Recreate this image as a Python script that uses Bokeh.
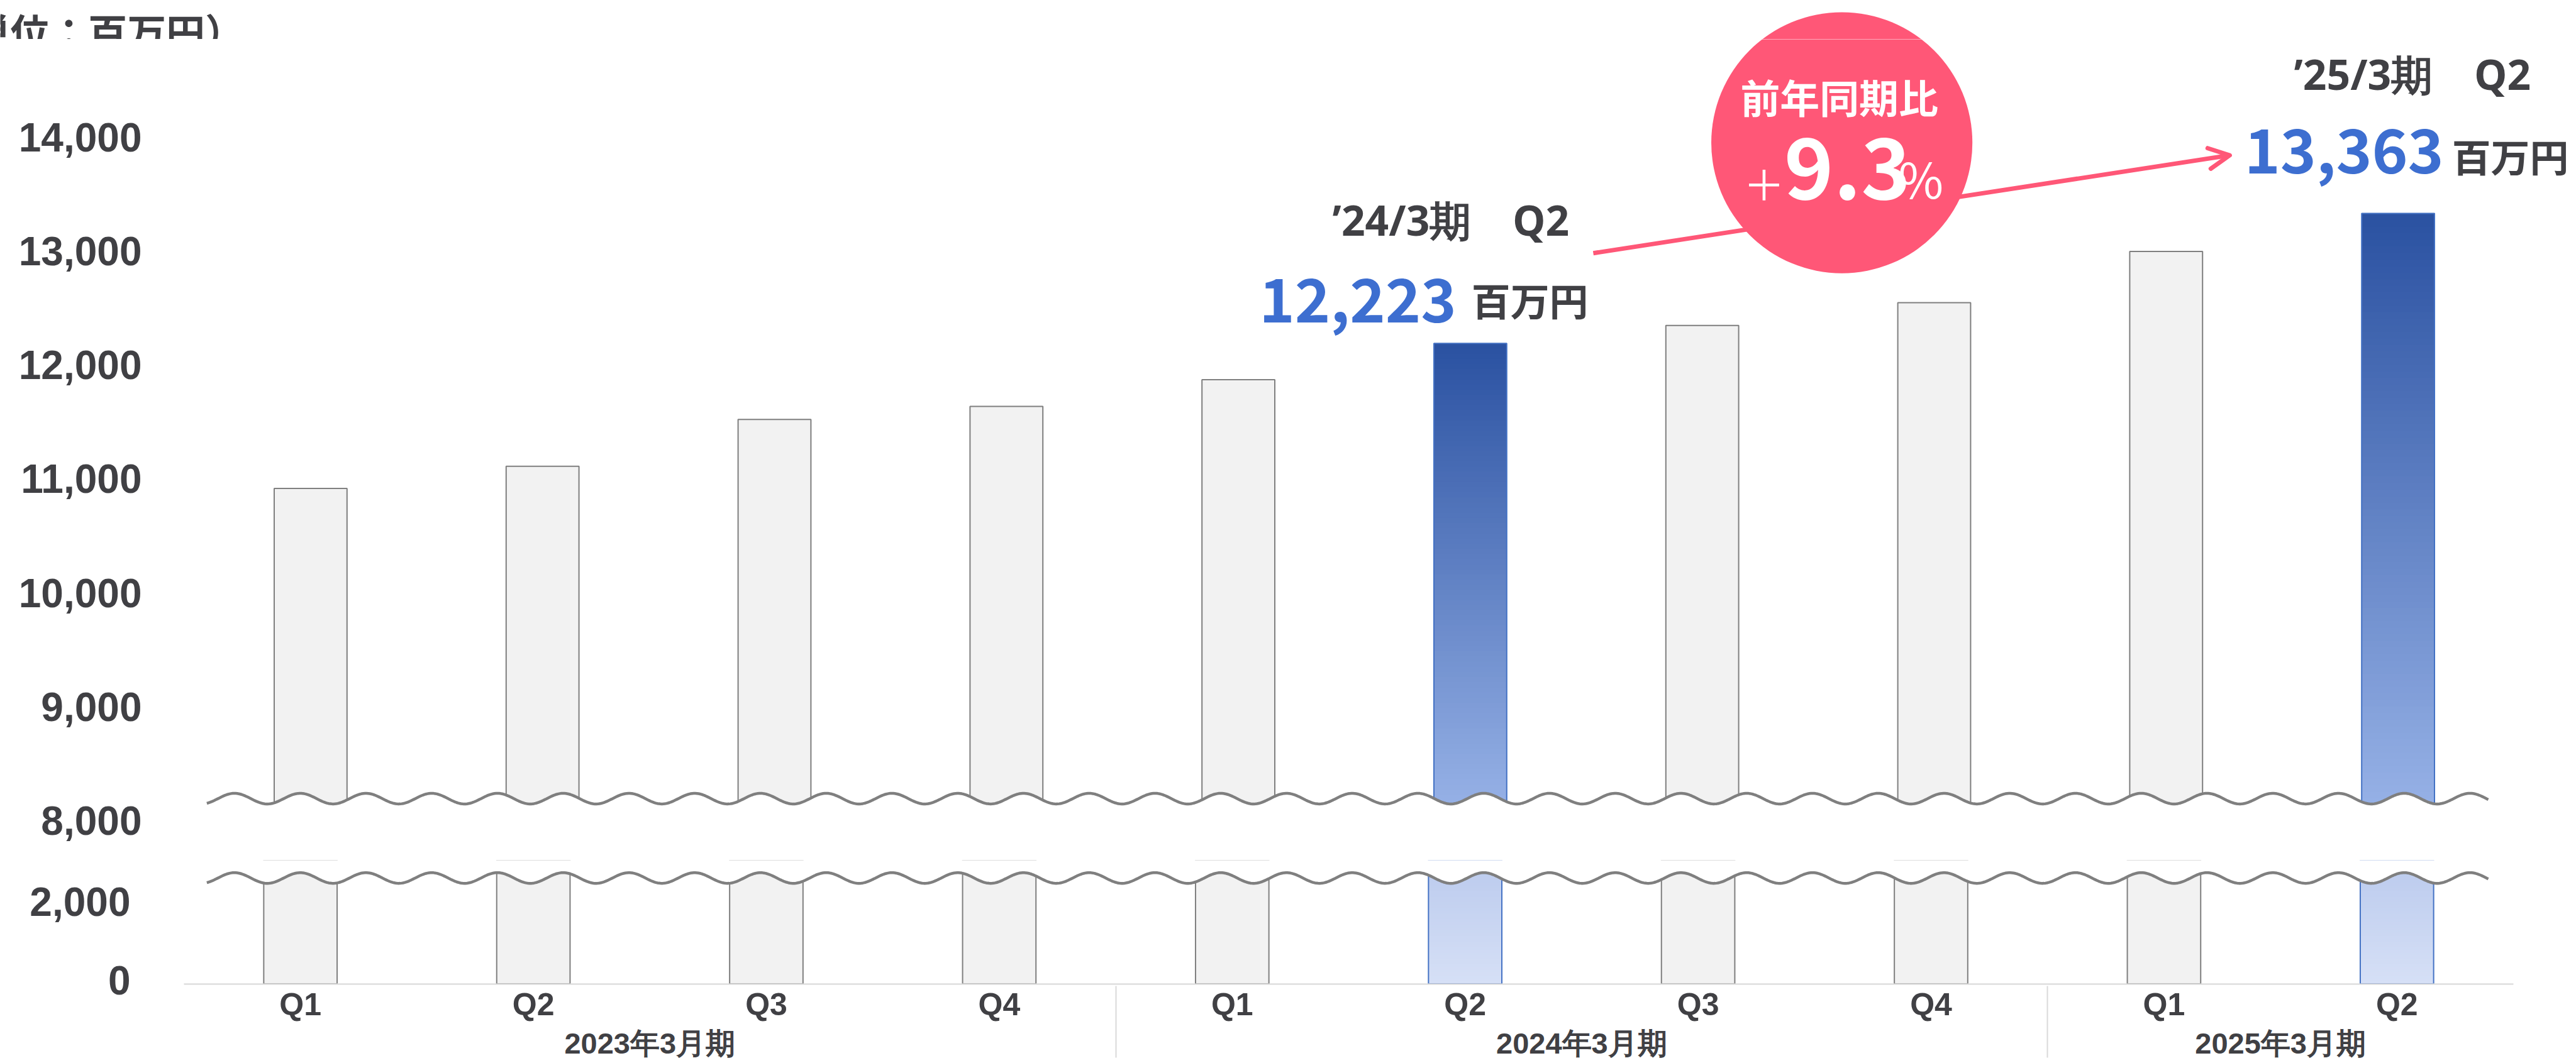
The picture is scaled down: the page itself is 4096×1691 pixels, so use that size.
import numpy as np
from bokeh.plotting import figure
from bokeh.models import (FactorRange, Range1d, FixedTicker, NumeralTickFormatter, Label,
                          Arrow, OpenHead, BoxAnnotation, LinearAxis)
from bokeh.core.properties import value
from bokeh.layouts import column
from bokeh.embed import file_html
from bokeh.resources import INLINE

# ---------------- data ----------------
fiscal_years = ["2023年3月期"] * 4 + ["2024年3月期"] * 4 + ["2025年3月期"] * 2
quarters = ["Q1", "Q2", "Q3", "Q4", "Q1", "Q2", "Q3", "Q4", "Q1", "Q2"]
revenue = [10950, 11145, 11555, 11670, 11905, 12223, 12380, 12580, 13030, 13363]
highlighted = [False, False, False, False, False, True, False, False, False, True]
upper_ticks = [8000, 9000, 10000, 11000, 12000, 13000, 14000]
lower_ticks = [0, 2000]
unit_title = "（単位：百万円）"
prev_label = "’24/3期　Q2"
curr_label = "’25/3期　Q2"
unit_text = "百万円"
yoy_title = "前年同期比"

# ---------------- layout constants ----------------
S = 0.998
W = 4096
H_T, H_UP, H_LO = 62, 1306, 323
UP_L = 309
LO_L, LO_R, LO_B = 292, 100, 126
LABEL_LIFT = 6  # tick labels sit slightly above their tick position (ref px)

DARK = "#404044"
BLUE = "#3d6ed0"
PINK = "#ff5777"
GREY_FILL = "#f2f2f2"
GREY_LINE = "#7f7f7f"
CJK = "Noto Sans CJK JP"
LATIN = "Noto Sans"
SANS = "Liberation Sans"


def cx(r):
    return S * r


def cy(r):
    return S * r


def ref(c):
    return c / S


# upper segment: value <-> reference px
K_UP, Y14 = 0.18167, 224.0


def up_val(ry):
    return 14000 - (ry - Y14) / K_UP


U_UP = 369.54
up_left_ref = ref(UP_L)


def up_sx(rx):
    return (rx - up_left_ref) / U_UP


# lower segment
K_LO, Y0 = 0.0625, 1568.0
lo_top_ref = ref(H_T + H_UP)
lo_bot_ref = ref(H_T + H_UP + H_LO - LO_B)
lo_left_ref = ref(LO_L)
U_LO = (W - LO_L - LO_R) / S / 10


def lo_val(ry):
    return (Y0 - ry) / K_LO


def lo_sx(rx):
    return (rx - lo_left_ref) / U_LO


factors = list(zip(fiscal_years, quarters))
xpos = [i + 0.5 for i in range(len(factors))]


def lerp(c1, c2, t):
    return "#%02x%02x%02x" % tuple(int(round(a + (b - a) * t)) for a, b in zip(c1, c2))


# wave (axis-break marker)
wx = np.linspace(329, 3964, 1500)
phase = 2 * np.pi * (wx - 373) / 104.76
WAVE_A = 8.5
up_wave_ref = 1272.5 - WAVE_A * np.cos(phase)
lo_wave_ref = 1399.0 - WAVE_A * np.cos(phase)

circle_ref = (2934, 227)
CIRCLE_R = 208 * S


def base_fig(**kw):
    p = figure(output_backend="svg", toolbar_location=None, outline_line_color=None,
               background_fill_color="white", border_fill_color="white", **kw)
    p.xgrid.visible = False
    p.ygrid.visible = False
    return p


def value_axis(p, rng, lift, ticks, standoff):
    p.extra_y_ranges = {"lbl": Range1d(rng.start - lift, rng.end - lift)}
    ax = LinearAxis(y_range_name="lbl", ticker=FixedTicker(ticks=ticks),
                    formatter=NumeralTickFormatter(format="0,0"),
                    axis_line_color=None, major_tick_line_color=None,
                    minor_tick_line_color=None, major_tick_out=0, major_tick_in=0,
                    major_label_standoff=standoff, major_label_text_font=SANS,
                    major_label_text_font_style="bold", major_label_text_font_size="64px",
                    major_label_text_color=DARK)
    p.add_layout(ax, "left")


# ---------------- top strip (unit caption + top of badge) ----------------
p_top = base_fig(width=W, height=H_T,
                 x_range=Range1d(up_sx(ref(0)), up_sx(ref(W))),
                 y_range=Range1d(up_val(ref(H_T)), up_val(ref(0))),
                 x_axis_location=None, y_axis_location=None,
                 min_border_left=0, min_border_right=0, min_border_top=0, min_border_bottom=0)
p_top.circle(x=[up_sx(circle_ref[0])], y=[up_val(circle_ref[1])], radius=CIRCLE_R,
             radius_units="screen", fill_color=PINK, line_color=None)
p_top.text(x=[up_sx(-108)], y=[up_val(47.5)], text=[unit_title], text_font=value(CJK),
           text_font_size="61.9px", text_font_style="bold", text_color=DARK,
           text_align="left", text_baseline="middle")

# ---------------- upper segment ----------------
y_up = Range1d(up_val(ref(H_T + H_UP)), up_val(ref(H_T)))
p_up = base_fig(width=W, height=H_UP,
                x_range=Range1d(0, (W - UP_L) / S / U_UP), y_range=y_up,
                x_axis_location=None, y_axis_location=None,
                min_border_left=UP_L, min_border_right=0, min_border_top=0,
                min_border_bottom=0)

grey_idx = [i for i in range(10) if not highlighted[i]]
hi_idx = [i for i in range(10) if highlighted[i]]
BW_UP = 0.314
p_up.vbar(x=[xpos[i] for i in grey_idx], top=[revenue[i] for i in grey_idx], bottom=0,
          width=BW_UP, fill_color=GREY_FILL, line_color=GREY_LINE, line_width=2)

C_TOP, C_BOT = (42, 81, 161), (150, 177, 230)
wave_floor_up = up_val(1272.5 + WAVE_A + 2)
gx, gb, gt, gc = [], [], [], []
N = 90
for i in hi_idx:
    lo, hi = wave_floor_up, revenue[i]
    step = (hi - lo) / N
    for j in range(N):
        b = lo + step * j
        gx.append(xpos[i]); gb.append(b); gt.append(min(hi, b + step * 1.4))
        gc.append(lerp(C_BOT, C_TOP, (j + 0.5) / N))
p_up.vbar(x=gx, bottom=gb, top=gt, width=BW_UP, fill_color=gc, line_color=None)
p_up.vbar(x=[xpos[i] for i in hi_idx], top=[revenue[i] for i in hi_idx], bottom=0,
          width=BW_UP, fill_color=None, line_color="#4472c4", line_width=2)

ys_up = [up_val(r) for r in up_wave_ref]
p_up.patch(x=list(up_sx(wx)) + [up_sx(3964), up_sx(329)],
           y=ys_up + [up_val(2000)] * 2, fill_color="white", line_color=None)
p_up.line(x=up_sx(wx), y=ys_up, line_color=GREY_LINE, line_width=4.5)

value_axis(p_up, y_up, LABEL_LIFT / K_UP, upper_ticks, 84)

p_up.add_layout(Arrow(end=OpenHead(size=33, line_color=PINK, line_width=7,
                                   line_cap="round", line_join="round"),
                      x_start=up_sx(2538), y_start=up_val(403),
                      x_end=up_sx(3552), y_end=up_val(247),
                      line_color=PINK, line_width=7, level="underlay"))
p_up.circle(x=[up_sx(circle_ref[0])], y=[up_val(circle_ref[1])], radius=CIRCLE_R,
            radius_units="screen", fill_color=PINK, line_color=None)


def up_label(text, rx, ry, align, baseline, size, color, style="bold", font=CJK):
    p_up.add_layout(Label(x=cx(rx) - UP_L, y=H_UP - (cy(ry) - H_T),
                          x_units="screen", y_units="screen",
                          text=text, text_align=align, text_baseline=baseline,
                          text_font_size=f"{size * S:.1f}px", text_color=color,
                          text_font=font, text_font_style=style))


prev_i, curr_i = hi_idx
yoy = (revenue[curr_i] / revenue[prev_i] - 1) * 100

up_label(prev_label, 2311, 350, "center", "middle", 66, DARK, font=LATIN)
up_label(f"{revenue[prev_i]:,}", 2320, 478, "right", "middle", 96, BLUE)
up_label(unit_text, 2344, 476, "left", "middle", 62, DARK)
up_label(curr_label, 3843, 117, "center", "middle", 66, DARK, font=LATIN)
up_label(f"{revenue[curr_i]:,}", 3893, 240, "right", "middle", 97, BLUE)
up_label(unit_text, 3906, 247, "left", "middle", 62, DARK)
up_label(yoy_title, 2930, 152, "center", "middle", 63, "white")
up_label("＋", 2810, 291, "center", "middle", 66, "white", style="normal")
up_label(f"{yoy:.1f}", 2842, 267.5, "left", "alphabetic", 134, "white")
up_label("%", 3024, 282, "left", "alphabetic", 78, "white", style="normal")

# ---------------- lower segment + category axis ----------------
y_lo = Range1d(lo_val(lo_bot_ref), lo_val(lo_top_ref))
p_lo = base_fig(width=W, height=H_LO,
                x_range=FactorRange(*factors, factor_padding=0, group_padding=0,
                                    subgroup_padding=0, range_padding=0),
                y_range=y_lo, y_axis_location=None,
                min_border_left=LO_L, min_border_right=LO_R, min_border_top=0,
                min_border_bottom=LO_B)
BW_LO = 0.315
p_lo.vbar(x=[factors[i] for i in grey_idx], top=[revenue[i] for i in grey_idx], bottom=0,
          width=BW_LO, fill_color=GREY_FILL, line_color=GREY_LINE, line_width=2)
L_TOP, L_BOT = (189, 204, 238), (214, 224, 246)
wave_ceil_lo = lo_val(1399 - WAVE_A - 2)
gx, gb, gt, gc = [], [], [], []
for i in hi_idx:
    lo, hi = 0, wave_ceil_lo
    step = (hi - lo) / 40
    for j in range(40):
        b = lo + step * j
        gx.append(factors[i]); gb.append(b); gt.append(min(hi, b + step * 1.4))
        gc.append(lerp(L_BOT, L_TOP, (j + 0.5) / 40))
p_lo.vbar(x=gx, bottom=gb, top=gt, width=BW_LO, fill_color=gc, line_color=None)
p_lo.vbar(x=[factors[i] for i in hi_idx], top=[revenue[i] for i in hi_idx], bottom=0,
          width=BW_LO, fill_color=None, line_color="#4472c4", line_width=2)
ys_lo = [lo_val(r) for r in lo_wave_ref]
p_lo.patch(x=list(lo_sx(wx)) + [lo_sx(3964), lo_sx(329)],
           y=ys_lo + [lo_val(lo_top_ref) + 20000] * 2, fill_color="white", line_color=None)
p_lo.line(x=lo_sx(wx), y=ys_lo, line_color=GREY_LINE, line_width=4.5)

value_axis(p_lo, y_lo, LABEL_LIFT / K_LO, lower_ticks, 85)

xa = p_lo.xaxis[0]
xa.axis_line_color = "#d9d9d9"
xa.axis_line_width = 2
xa.major_tick_line_color = None
xa.minor_tick_line_color = None
xa.major_tick_out = 0
xa.major_tick_in = 0
xa.major_label_standoff = 4
xa.major_label_text_font = SANS
xa.major_label_text_font_style = "bold"
xa.major_label_text_font_size = "50px"
xa.major_label_text_color = DARK
xa.group_text_font = SANS
xa.group_text_font_style = "bold"
xa.group_text_font_size = "47px"
xa.group_text_color = DARK
xa.separator_line_color = "#d9d9d9"
xa.separator_line_width = 2

p_lo.add_layout(BoxAnnotation(left=0, right=W - LO_L - LO_R, top=0, bottom=-300,
                              left_units="screen", right_units="screen",
                              top_units="screen", bottom_units="screen",
                              fill_alpha=0, line_color="#d9d9d9", line_width=2))

figs = [p_top, p_up, p_lo]
can_unalign = True
for p in figs:
    try:
        p.frame_align = False
    except Exception:
        can_unalign = False

if can_unalign:
    html = file_html(column(*figs, spacing=0), INLINE)
else:
    html = file_html(figs, INLINE)
open("out.html", "w").write(html)
